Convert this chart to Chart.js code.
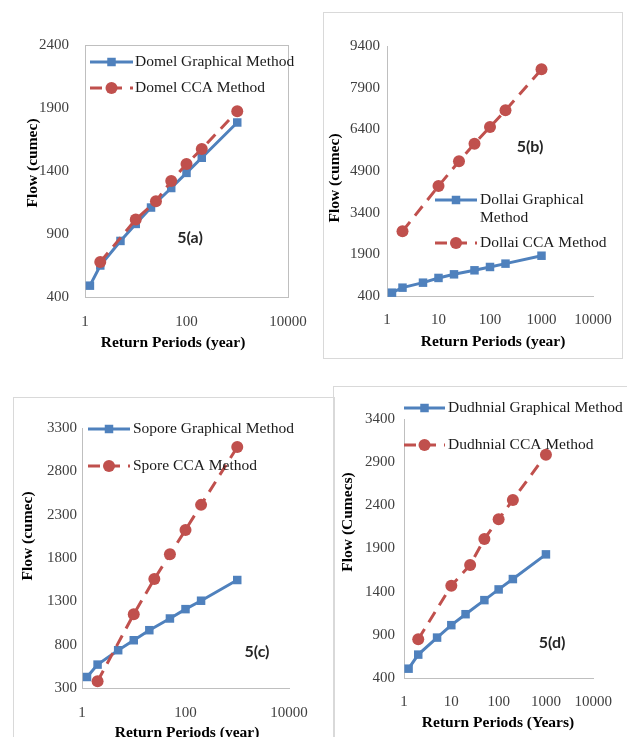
<!DOCTYPE html>
<html>
<head>
<meta charset="utf-8">
<script src="https://cdn.jsdelivr.net/npm/chart.js@4.4.1/dist/chart.umd.min.js"></script>
<style>
  html, body { margin: 0; padding: 0; background: #fff; }
  #page { position: relative; width: 627px; height: 737px; overflow: hidden; background: #fff; }
  #page canvas { position: absolute; left: 0; top: 0; }
  .box { position: absolute; border: 1px solid #d9d9d9; }
</style>
</head>
<body>
<div id="page">
  <div class="box" style="left:323px;top:12px;width:298px;height:345px"></div>
  <div class="box" style="left:13px;top:397px;width:320px;height:360px"></div>
  <div class="box" style="left:333px;top:386px;width:320px;height:360px"></div>
  <canvas id="c5a" width="627" height="737"></canvas>
  <canvas id="c5b" width="627" height="737"></canvas>
  <canvas id="c5c" width="627" height="737"></canvas>
  <canvas id="c5d" width="627" height="737"></canvas>
</div>
<script>
// Return periods (years)
const graphicalPeriods = [1.25, 2, 5, 10, 20, 50, 100, 200, 1000];
const ccaPeriods = [2, 10, 25, 50, 100, 200, 1000];

// Flow (cumec)
const domelGraphical = [490, 650, 845, 980, 1110, 1265, 1385, 1505, 1785];
const domelCCA = [678, 1015, 1160, 1320, 1455, 1575, 1875];
const dollaiGraphical = [520, 700, 880, 1050, 1180, 1325, 1445, 1565, 1850];
const dollaiCCA = [2730, 4360, 5250, 5885, 6485, 7085, 8560];
const soporeGraphical = [427, 570, 736, 851, 967, 1102, 1210, 1307, 1546];
const soporeCCA = [377, 1152, 1557, 1843, 2124, 2413, 3080];
const dudhnialGraphical = [508, 671, 868, 1012, 1139, 1302, 1426, 1546, 1832];
const dudhnialCCA = [849, 1469, 1709, 2011, 2239, 2463, 2986];

// Tick labels
const periodTicksShort = [1, 100, 10000];
const periodTicksFull = [1, 10, 100, 1000, 10000];
const flowTicksA = [400, 900, 1400, 1900, 2400];
const flowTicksB = [400, 1900, 3400, 4900, 6400, 7900, 9400];
const flowTicksC = [300, 800, 1300, 1800, 2300, 2800, 3300];
const flowTicksD = [400, 900, 1400, 1900, 2400, 2900, 3400];

const BLUE = '#4F81BD';
const RED = '#C0504D';
const AXIS = '#bfbfbf';
const TICK = '#404040';
const SERIF = '"Liberation Serif", "Times New Roman", serif';
const PAGE_W = 627, PAGE_H = 737;
const Y_BOX = 60, X_BOX = 30;

const toPoints = (xs, ys) => xs.map((x, i) => ({ x: x, y: ys[i] }));

// draws frame, in-plot legend, axis titles and the panel label
const panelDecor = {
  id: 'panelDecor',
  beforeDatasetsDraw(chart, args, opts) {
    if (!opts.frame) return;
    const a = chart.chartArea;
    const ctx = chart.ctx;
    ctx.save();
    ctx.strokeStyle = AXIS;
    ctx.lineWidth = 1;
    ctx.strokeRect(Math.round(a.left) + 0.5, Math.round(a.top) + 0.5,
      Math.round(a.right - a.left), Math.round(a.bottom - a.top));
    ctx.restore();
  },
  afterDraw(chart, args, opts) {
    const ctx = chart.ctx;
    ctx.save();

    // legend
    const lg = opts.legend;
    lg.rows.forEach(row => {
      const ds = chart.data.datasets[row.ds];
      ctx.save();
      ctx.strokeStyle = ds.borderColor;
      ctx.lineWidth = ds.borderWidth;
      ctx.setLineDash(ds.borderDash || []);
      ctx.beginPath();
      ctx.moveTo(lg.x0, row.y);
      ctx.lineTo(lg.x1, row.y);
      ctx.stroke();
      ctx.setLineDash([]);
      ctx.fillStyle = ds.backgroundColor;
      const mx = (lg.x0 + lg.x1) / 2;
      if (ds.pointStyle === 'rect') {
        const s = ds.pointRadius * Math.SQRT1_2;
        ctx.fillRect(mx - s, row.y - s, 2 * s, 2 * s);
      } else {
        ctx.beginPath();
        ctx.arc(mx, row.y, ds.pointRadius, 0, Math.PI * 2);
        ctx.fill();
      }
      ctx.restore();
      ctx.fillStyle = '#1a1a1a';
      ctx.font = '15.5px ' + SERIF;
      ctx.textAlign = 'left';
      ctx.textBaseline = 'middle';
      row.text.forEach((t, i) => ctx.fillText(t, lg.tx, row.y + i * 18));
    });

    // axis titles
    ctx.fillStyle = '#000';
    ctx.font = 'bold 15.5px ' + SERIF;
    ctx.textAlign = 'center';
    ctx.textBaseline = 'middle';
    ctx.fillText(opts.xTitle.text, opts.xTitle.x, opts.xTitle.y);
    ctx.save();
    ctx.translate(opts.yTitle.x, opts.yTitle.y);
    ctx.rotate(-Math.PI / 2);
    ctx.fillText(opts.yTitle.text, 0, 0);
    ctx.restore();

    // panel label
    ctx.fillStyle = '#262626';
    ctx.font = 'bold 16px Lato, "Liberation Sans", sans-serif';
    ctx.fillText(opts.note.text, opts.note.x, opts.note.y);
    ctx.restore();
  }
};

function makePanel(id, p) {
  const tickFont = { family: SERIF, size: 15 };
  new Chart(document.getElementById(id), {
    type: 'line',
    data: {
      datasets: [
        {
          label: p.names[0],
          data: toPoints(graphicalPeriods, p.graphical),
          borderColor: BLUE, backgroundColor: BLUE, borderWidth: 3,
          pointStyle: 'rect', pointRadius: 6, pointBorderWidth: 0,
          tension: 0, order: 1
        },
        {
          label: p.names[1],
          data: toPoints(ccaPeriods, p.cca),
          borderColor: RED, backgroundColor: RED, borderWidth: 3, borderDash: [12, 8],
          pointStyle: 'circle', pointRadius: 6, pointBorderWidth: 0,
          tension: 0, order: 0
        }
      ]
    },
    options: {
      responsive: false,
      animation: false,
      clip: false,
      layout: {
        padding: {
          left: p.area.left - Y_BOX,
          top: p.area.top,
          right: PAGE_W - p.area.right,
          bottom: PAGE_H - p.area.bottom - X_BOX
        }
      },
      scales: {
        x: {
          type: 'logarithmic', min: 1, max: 10000,
          afterBuildTicks: s => { s.ticks = p.xTicks.map(v => ({ value: v })); },
          afterFit: s => { s.height = X_BOX; },
          grid: { display: false, drawTicks: false },
          border: { display: true, color: AXIS, width: 1 },
          ticks: { padding: p.xPad, font: tickFont, color: TICK, autoSkip: false, maxRotation: 0,
                   callback: v => String(v) }
        },
        y: {
          type: 'linear', min: p.yTicks[0], max: p.yTicks[p.yTicks.length - 1],
          afterBuildTicks: s => { s.ticks = p.yTicks.map(v => ({ value: v })); },
          afterFit: s => { s.width = Y_BOX; },
          grid: { display: false, drawTicks: false },
          border: { display: true, color: AXIS, width: 1 },
          ticks: { padding: p.yPad, font: tickFont, color: TICK, callback: v => String(v) }
        }
      },
      plugins: {
        legend: { display: false },
        tooltip: { enabled: false },
        panelDecor: {
          frame: p.frame, legend: p.legend,
          xTitle: p.xTitle, yTitle: p.yTitle, note: p.note
        }
      }
    },
    plugins: [panelDecor]
  });
}

makePanel('c5a', {
  names: ['Domel Graphical Method', 'Domel CCA Method'],
  graphical: domelGraphical, cca: domelCCA,
  area: { left: 85, top: 45, right: 288, bottom: 297 },
  xTicks: periodTicksShort, yTicks: flowTicksA, xPad: 16, yPad: 16, frame: true,
  xTitle: { text: 'Return Periods (year)', x: 173, y: 343 },
  yTitle: { text: 'Flow (cumec)', x: 33, y: 163 },
  legend: { x0: 90, x1: 133, tx: 135, rows: [
    { ds: 0, y: 62, text: ['Domel Graphical Method'] },
    { ds: 1, y: 88, text: ['Domel CCA Method'] }
  ] },
  note: { text: '5(a)', x: 190, y: 238 }
});

makePanel('c5b', {
  names: ['Dollai Graphical Method', 'Dollai CCA Method'],
  graphical: dollaiGraphical, cca: dollaiCCA,
  area: { left: 387, top: 46, right: 593, bottom: 296 },
  xTicks: periodTicksFull, yTicks: flowTicksB, xPad: 15, yPad: 7, frame: false,
  xTitle: { text: 'Return Periods (year)', x: 493, y: 342 },
  yTitle: { text: 'Flow (cumec)', x: 335, y: 178 },
  legend: { x0: 435, x1: 477, tx: 480, rows: [
    { ds: 0, y: 200, text: ['Dollai Graphical', 'Method'] },
    { ds: 1, y: 243, text: ['Dollai CCA Method'] }
  ] },
  note: { text: '5(b)', x: 530, y: 147 }
});

makePanel('c5c', {
  names: ['Sopore Graphical Method', 'Spore CCA Method'],
  graphical: soporeGraphical, cca: soporeCCA,
  area: { left: 82, top: 428, right: 289, bottom: 688 },
  xTicks: periodTicksShort, yTicks: flowTicksC, xPad: 16, yPad: 5, frame: false,
  xTitle: { text: 'Return Periods (year)', x: 187, y: 733 },
  yTitle: { text: 'Flow (cumec)', x: 28, y: 536 },
  legend: { x0: 88, x1: 130, tx: 133, rows: [
    { ds: 0, y: 429, text: ['Sopore Graphical Method'] },
    { ds: 1, y: 466, text: ['Spore CCA Method'] }
  ] },
  note: { text: '5(c)', x: 257, y: 652 }
});

makePanel('c5d', {
  names: ['Dudhnial Graphical Method', 'Dudhnial CCA Method'],
  graphical: dudhnialGraphical, cca: dudhnialCCA,
  area: { left: 404, top: 419, right: 602, bottom: 678 },
  xTicks: periodTicksFull, yTicks: flowTicksD, xPad: 15, yPad: 9, frame: false,
  xTitle: { text: 'Return Periods (Years)', x: 498, y: 723 },
  yTitle: { text: 'Flow (Cumecs)', x: 348, y: 522 },
  legend: { x0: 404, x1: 445, tx: 448, rows: [
    { ds: 0, y: 408, text: ['Dudhnial Graphical Method'] },
    { ds: 1, y: 445, text: ['Dudhnial CCA Method'] }
  ] },
  note: { text: '5(d)', x: 552, y: 643 }
});
</script>
</body>
</html>
